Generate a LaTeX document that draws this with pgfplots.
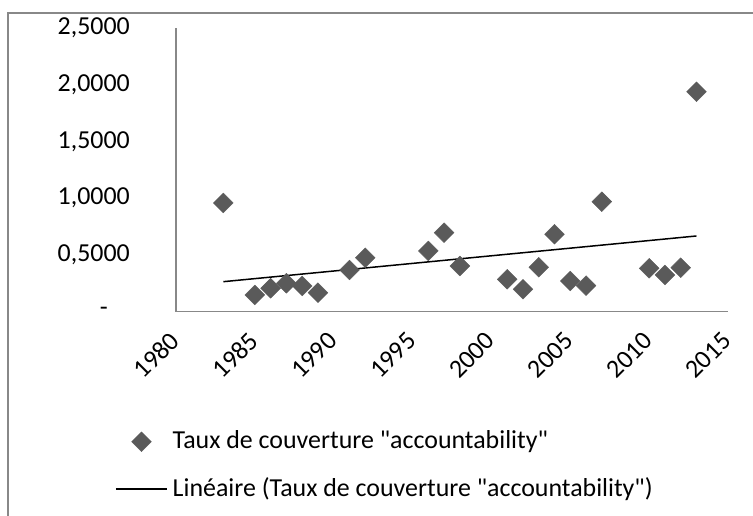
\documentclass[border=0pt]{standalone}
\usepackage{pgfplots}
\pgfplotsset{compat=1.18}
\usepackage{fontspec}
\setmainfont{Carlito}
\definecolor{mk}{HTML}{5A5A5A}
\definecolor{axc}{HTML}{888888}
\begin{document}
\fontsize{26}{31}\selectfont
\begin{tikzpicture}
\path[use as bounding box] (0bp,0bp) rectangle (753bp,516bp);
\draw[axc, line width=2bp] (8bp,0bp) -- (8bp,502.5bp) -- (753bp,502.5bp);
\begin{axis}[
  at={(176bp,204.5bp)}, anchor=south west, scale only axis,
  width=552bp, height=283.5bp,
  xmin=1980, xmax=2015, ymin=0, ymax=2.5,
  axis lines*=left,
  axis line style={axc, line width=1.2bp, -},
  major tick length=0pt,
  xtick={1980,1985,...,2015},
  xticklabels={1980,1985,1990,1995,2000,2005,2010,2015},
  ytick={0,0.5,...,2.5},
  yticklabels={-\kern22bp,{0,5000},{1,0000},{1,5000},{2,0000},{2,5000}},
  tick label style={font=\fontsize{26}{31}\selectfont, inner sep=0pt},
  yticklabel style={anchor=east, xshift=-46bp},
  xticklabel style={xshift=-1bp, yshift=-25bp, rotate=45, anchor=east},
  clip=false,
  legend cell align=left,
  legend image code/.code={\draw[mark repeat=2,mark phase=2,#1] plot coordinates {(0bp,0bp) (25.5bp,0bp) (51bp,0bp)};},
  legend style={at={(axis description cs:-0.1159,-0.406)}, anchor=north west,
    draw=none, fill=none, font=\fontsize{26}{31}\selectfont,
    nodes={inner sep=2bp}, row sep=21bp, column sep=3bp},
]
\addplot[only marks, mark=square*, mark size=7bp, mark options={rotate=45, fill=mk, draw=mk}] coordinates {
(1983,0.957) (1985,0.146) (1986,0.205) (1987,0.249) (1988,0.225) (1989,0.166)
(1991,0.366) (1992,0.474) (1996,0.534) (1997,0.695) (1998,0.401)
(2001,0.284) (2002,0.196) (2003,0.390) (2004,0.681) (2005,0.269) (2006,0.228)
(2007,0.968) (2010,0.381) (2011,0.322) (2012,0.386) (2013,1.938)
};
\addlegendentry{Taux de couverture \textquotedbl accountability\textquotedbl}
\addplot[black, line width=1.5bp] coordinates {(1983,0.263) (2013,0.666)};
\addlegendentry{Linéaire (Taux de couverture \textquotedbl accountability\textquotedbl)}
\end{axis}
\end{tikzpicture}
\end{document}
